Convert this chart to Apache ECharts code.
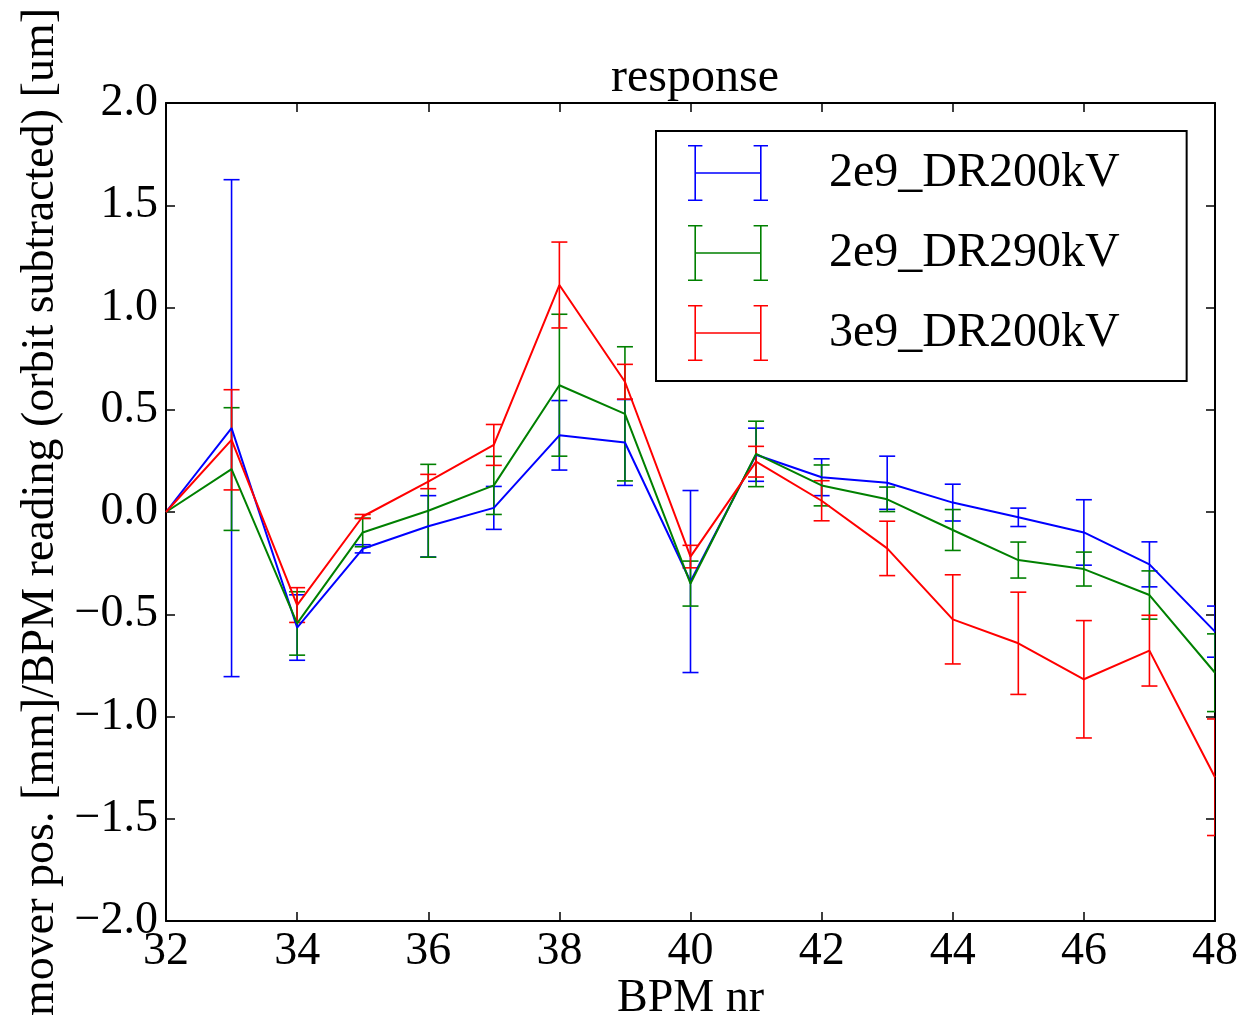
<!DOCTYPE html>
<html>
<head>
<meta charset="UTF-8">
<title>response</title>
<script src="https://cdn.jsdelivr.net/npm/echarts@6/dist/echarts.min.js"></script>
<style>
body{margin:0;background:#fff;}
</style>
</head>
<body>
<div id="chart" style="width:1239px;height:1019px"></div>
<script type="text/javascript">
// BPM numbers
var bpm = [32,33,34,35,36,37,38,39,40,41,42,43,44,45,46,47,48];
// 2e9_DR200kV
var blueVal = [0,0.41,-0.565,-0.18,-0.07,0.02,0.375,0.34,-0.34,0.28,0.17,0.143,0.046,-0.026,-0.10,-0.256,-0.585];
var blueErr = [0,1.215,0.16,0.02,0.15,0.105,0.17,0.21,0.445,0.13,0.09,0.13,0.09,0.045,0.16,0.11,0.125];
// 2e9_DR290kV
var greenVal = [0,0.21,-0.545,-0.10,0.006,0.13,0.62,0.48,-0.35,0.284,0.13,0.062,-0.088,-0.235,-0.279,-0.406,-0.786];
var greenErr = [0,0.30,0.155,0.07,0.227,0.142,0.347,0.328,0.11,0.16,0.1,0.06,0.1,0.088,0.083,0.118,0.19];
// 3e9_DR200kV
var redVal = [0,0.353,-0.455,-0.022,0.149,0.328,1.11,0.637,-0.218,0.246,0.055,-0.178,-0.525,-0.642,-0.818,-0.678,-1.297];
var redErr = [0,0.245,0.085,0.01,0.035,0.10,0.21,0.085,0.055,0.075,0.098,0.133,0.218,0.25,0.287,0.173,0.285];

var names = ['2e9_DR200kV','2e9_DR290kV','3e9_DR200kV'];
var colors = ['#0000ff','#008000','#ff0000'];
var vals = [blueVal, greenVal, redVal];
var errs = [blueErr, greenErr, redErr];

var font = "'Liberation Serif', 'DejaVu Serif', serif";
var legendIcon = 'path://M8,0h2v70h-2zM0,0h18v2h-18zM0,68h18v2h-18zM9,34h82v2h-82zM90,0h2v70h-2zM82,0h18v2h-18zM82,68h18v2h-18z';

function fmt(v){
	var s = Math.abs(v).toFixed(1);
	return v < 0 ? '\u2212' + s : s;
}

function renderErr(params, api){
	var x = api.value(0), y = api.value(1), e = api.value(2);
	if(!e) return null;
	var top = api.coord([x, y + e]);
	var bot = api.coord([x, y - e]);
	var w = 8;
	var st = {stroke: api.visual('color'), lineWidth: 1.6};
	return {
		type: 'group',
		children: [
			{type:'line', shape:{x1:top[0], y1:top[1], x2:bot[0], y2:bot[1]}, style:st},
			{type:'line', shape:{x1:top[0]-w, y1:top[1], x2:top[0]+w, y2:top[1]}, style:st},
			{type:'line', shape:{x1:bot[0]-w, y1:bot[1], x2:bot[0]+w, y2:bot[1]}, style:st}
		]
	};
}

var series = [];
for(var k=0;k<3;k++){
	var lineData = [], errData = [];
	for(var i=0;i<bpm.length;i++){
		lineData.push([bpm[i], vals[k][i]]);
		errData.push([bpm[i], vals[k][i], errs[k][i]]);
	}
	series.push({
		name: names[k],
		type: 'custom',
		renderItem: renderErr,
		itemStyle: {color: colors[k]},
		data: errData,
		clip: true,
		z: 2
	});
	series.push({
		name: names[k],
		type: 'line',
		symbol: 'none',
		lineStyle: {color: colors[k], width: 2},
		itemStyle: {color: colors[k]},
		data: lineData,
		clip: true,
		z: 3
	});
}

var axisLine = {show: true, onZero: false, lineStyle: {color: '#000', width: 2}};
var tick = {show: true, inside: true, length: 9, lineStyle: {color: '#000', width: 1.5}};

var option = {
	backgroundColor: '#fff',
	animation: false,
	textStyle: {fontFamily: font},
	title: {
		text: 'response',
		left: 690,
		textAlign: 'center',
		top: 49,
		textStyle: {fontFamily: font, fontSize: 48, fontWeight: 'normal', color: '#000'}
	},
	legend: {
		orient: 'vertical',
		left: 656,
		top: 131,
		padding: [14, 67, 20, 32],
		borderColor: '#000',
		borderWidth: 2,
		backgroundColor: '#fff',
		itemWidth: 88,
		itemHeight: 56,
		itemGap: 24,
		data: names.map(function(n, i){ return {name: n, icon: legendIcon, itemStyle: {color: colors[i]}}; }),
		textStyle: {fontFamily: font, fontSize: 48, color: '#000', padding: [0, 0, 0, 52]}
	},
	grid: {left: 166, right: 24, top: 103, bottom: 98, outerBoundsMode: 'none', containLabel: false},
	xAxis: [{
		type: 'value',
		min: 32, max: 48, interval: 2,
		name: 'BPM nr',
		nameLocation: 'middle',
		nameGap: 55,
		nameMoveOverlap: false,
		nameTextStyle: {fontFamily: font, fontSize: 46, color: '#000'},
		axisLine: axisLine,
		axisTick: tick,
		splitLine: {show: false},
		axisLabel: {fontFamily: font, fontSize: 46, color: '#000', margin: 8}
	}, {
		type: 'value',
		position: 'top',
		min: 32, max: 48, interval: 2,
		axisLine: axisLine,
		axisTick: tick,
		splitLine: {show: false},
		axisLabel: {show: false}
	}],
	yAxis: [{
		type: 'value',
		min: -2, max: 2, interval: 0.5,
		name: 'mover pos. [mm]/BPM reading (orbit subtracted) [um]',
		nameLocation: 'middle',
		nameGap: 102,
		nameMoveOverlap: false,
		nameTextStyle: {fontFamily: font, fontSize: 46, color: '#000'},
		axisLine: axisLine,
		axisTick: tick,
		splitLine: {show: false},
		axisLabel: {fontFamily: font, fontSize: 46, color: '#000', margin: 8, formatter: fmt}
	}, {
		type: 'value',
		position: 'right',
		min: -2, max: 2, interval: 0.5,
		axisLine: axisLine,
		axisTick: tick,
		splitLine: {show: false},
		axisLabel: {show: false}
	}],
	series: series
};

var chart = echarts.init(document.getElementById('chart'));
chart.setOption(option);
</script>
</body>
</html>
